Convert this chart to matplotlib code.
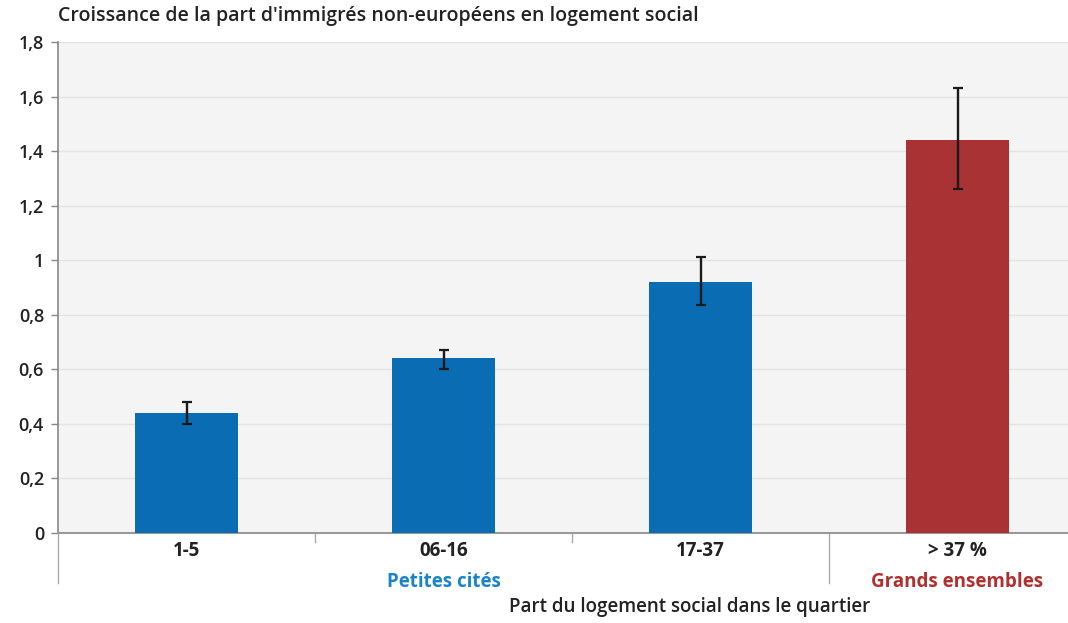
import matplotlib
matplotlib.use("Agg")
import matplotlib.pyplot as plt
from matplotlib.lines import Line2D

categories = ["1-5", "06-16", "17-37", "> 37 %"]
values = [0.44, 0.64, 0.92, 1.44]
err_low = [0.40, 0.60, 0.835, 1.26]
err_high = [0.48, 0.67, 1.01, 1.63]
bar_colors = ["#0a6db3", "#0a6db3", "#0a6db3", "#a83234"]
yticks = [0, 0.2, 0.4, 0.6, 0.8, 1.0, 1.2, 1.4, 1.6, 1.8]
ytick_labels = ["0", "0,2", "0,4", "0,6", "0,8", "1", "1,2", "1,4", "1,6", "1,8"]
title = "Croissance de la part d'immigrés non-européens en logement social"
xlabel = "Part du logement social dans le quartier"
group_labels = ["Petites cités", "Grands ensembles"]
group_colors = ["#1a84c8", "#b0302f"]

plt.rcParams['font.family'] = ['Open Sans', 'DejaVu Sans']

W, H = 1068, 623
fig = plt.figure(figsize=(W / 100, H / 100), dpi=100)
fig.patch.set_facecolor("white")
left, right, top, bottom = 58, 1086, 42, 533
ax = fig.add_axes([left / W, (H - bottom) / H, (right - left) / W, (bottom - top) / H])
ax.set_facecolor("#f4f4f4")

x = list(range(len(categories)))
yerr = [[v - l for v, l in zip(values, err_low)], [h - v for v, h in zip(values, err_high)]]
ax.bar(x, values, width=0.4, color=bar_colors, zorder=3)
ax.errorbar(x, values, yerr=yerr, fmt="none", ecolor="#1a1a1a", elinewidth=1.7,
            capsize=3.5, capthick=1.6, zorder=4)

ax.set_xlim(-0.5, 3.5)
ax.set_ylim(0, 1.8)
ax.set_yticks(yticks)
ax.set_yticklabels(ytick_labels, fontsize=13, color="#222222", fontweight="semibold")
ax.tick_params(axis="y", length=5, width=1, color="#888888", pad=5)
ax.set_xticks(x)
ax.set_xticklabels(categories, fontsize=13.5, fontweight="bold", color="#222222")
ax.tick_params(axis="x", length=0, pad=6)
ax.yaxis.grid(True, color="#e2e2e2", linewidth=1, zorder=0)
ax.set_axisbelow(True)

for s in ["top", "right"]:
    ax.spines[s].set_visible(False)
ax.spines["left"].set_color("#888888")
ax.spines["left"].set_linewidth(1.2)
ax.spines["bottom"].set_color("#999999")
ax.spines["bottom"].set_linewidth(1.5)

# category separators below the axis
trans = ax.get_xaxis_transform()
for xs, length in [(-0.5, 50), (0.5, 9), (1.5, 9), (2.5, 50)]:
    ax.add_line(Line2D([xs, xs], [0, -length / (bottom - top)], transform=trans,
                       color="#aaaaaa", linewidth=1, clip_on=False))

ax.text(1, -0.100, group_labels[0], transform=trans, ha="center", va="center",
        fontsize=13.5, fontweight="bold", color=group_colors[0])
ax.text(3, -0.100, group_labels[1], transform=trans, ha="center", va="center",
        fontsize=13.5, fontweight="bold", color=group_colors[1])
fig.text(690 / W, 1 - 607 / H, xlabel, ha="center", va="center", fontsize=13.5,
         fontweight="semibold", color="#222222")
fig.text(58 / W, 1 - 16 / H, title, ha="left", va="center", fontsize=14,
         fontweight="semibold", color="#222222")

fig.savefig("out.png", dpi=100, facecolor="white")
